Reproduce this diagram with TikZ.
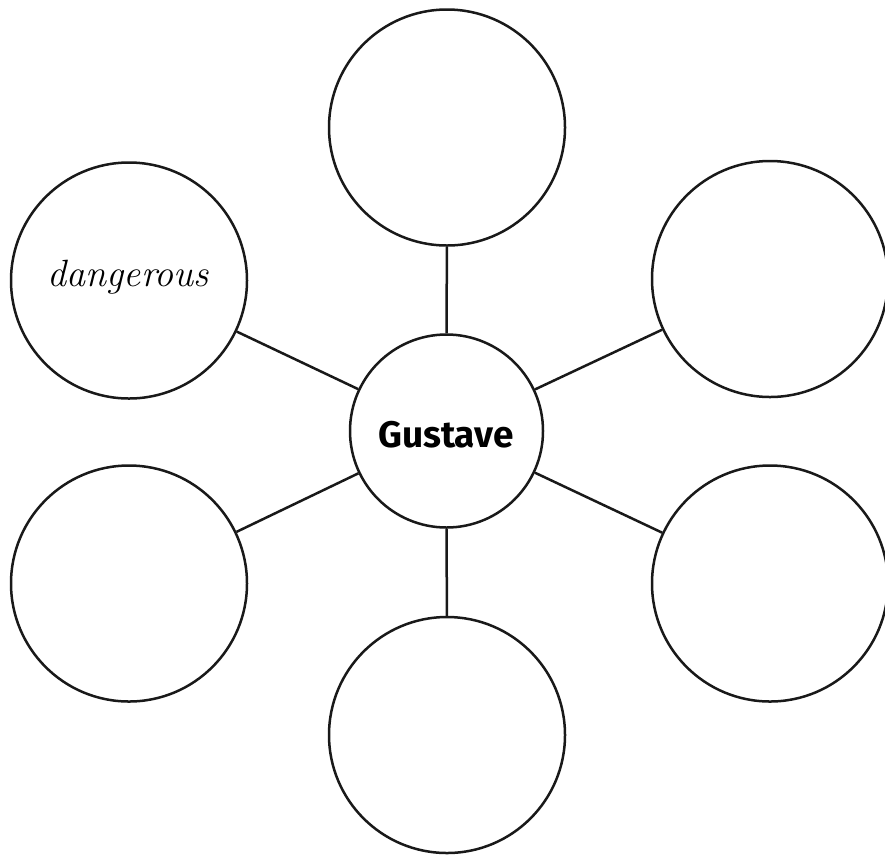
\documentclass[tikz,border=0pt]{standalone}
\usepackage{fontspec}
\newfontfamily\labelfont{Fira Sans}
\tikzset{
  bubble/.style={circle, draw=black!90, line width=2.5pt, minimum size=236pt, inner sep=0pt},
  hub/.style={circle, draw=black!90, line width=2.5pt, minimum size=193pt, inner sep=0pt},
  link/.style={draw=black!90, line width=2.5pt}
}
\begin{document}
\begin{tikzpicture}[x=1pt,y=1pt]
\useasboundingbox (0,0) rectangle (885,-855);
\node[hub] (c) at (446.5,-431) {};
\node[bubble] (t) at (447,-127.5) {};
\node[bubble] (b) at (447,-735) {};
\node[bubble] (lt) at (129,-280.5) {};
\node[bubble] (rt) at (770,-279) {};
\node[bubble] (lb) at (129,-583.5) {};
\node[bubble] (rb) at (770,-583.5) {};
\foreach \n in {t,b,lt,rt,lb,rb} \draw[link] (c) -- (\n);
\node[font=\labelfont\bfseries\fontsize{37}{42}\selectfont, inner sep=0pt] (g) at (446,-435) {Gustave};
\node[font=\itshape\fontsize{38}{42}\selectfont, inner sep=0pt] (d) at (128.5,-277) {dangerous};
\end{tikzpicture}
\end{document}
